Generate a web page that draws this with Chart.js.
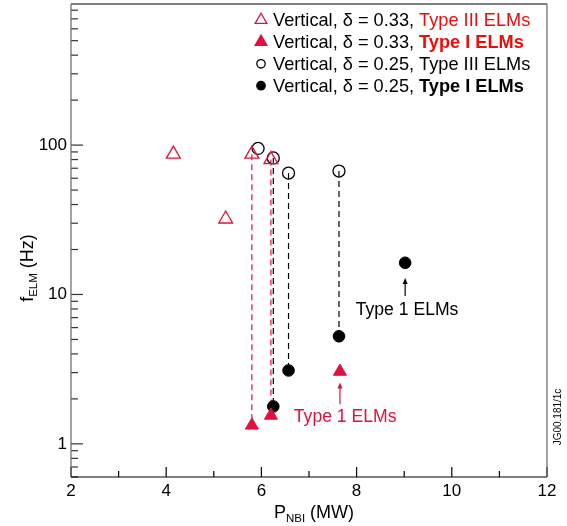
<!DOCTYPE html>
<html>
<head>
<meta charset="utf-8">
<script src="https://cdn.jsdelivr.net/npm/chart.js@4/dist/chart.umd.min.js"></script>
<style>
    body { margin: 0; background: #fff; }
    #wrap { width: 567px; height: 526px; }
</style>
</head>
<body>
<div id="wrap"><canvas id="elmChart" width="567" height="526"></canvas></div>
<script>
// P_NBI (MW) and f_ELM (Hz)
const pOpenTri = [4.15, 5.25, 5.8, 6.2];     // delta = 0.33, Type III
const fOpenTri = [87, 32, 87, 80];
const pFillTri = [5.8, 6.2, 7.65];           // delta = 0.33, Type I
const fFillTri = [1.33, 1.55, 3.05];
const pOpenCirc = [5.93, 6.25, 6.57, 7.63];  // delta = 0.25, Type III
const fOpenCirc = [95, 82, 65, 67];
const pFillCirc = [6.25, 6.57, 7.63, 9.02];  // delta = 0.25, Type I
const fFillCirc = [1.78, 3.1, 5.25, 16.3];

// dashed links: [index in open set, index in filled set]
const redLinks = [[2, 0], [3, 1]];
const blackLinks = [[1, 0], [2, 1], [3, 2]];

const xTicks = [2, 4, 6, 8, 10, 12];
const yTickLabels = [1, 10, 100];

const RED = '#e2103c';
const LEGEND_RED = '#f00a0a';
const FONT = "'Liberation Sans', Arial, Helvetica, sans-serif";

const toPts = (xs, ys) => xs.map((x, i) => ({ x: x, y: ys[i] }));

function linkSets(links, xo, yo, xf, yf, color) {
    return links.map(([a, b]) => ({
        data: [{ x: xo[a], y: yo[a] }, { x: xf[b], y: yf[b] }],
        showLine: true,
        borderColor: color,
        borderWidth: 1.2,
        borderDash: [6, 4],
        pointRadius: 0,
        order: 10
    }));
}

const annotations = [
    { x: 9.02, tip: 12.9, tail: 9.75, tx: 9.06, ty: 7.3, color: '#000' },
    { x: 7.65, tip: 2.57, tail: 1.84, tx: 7.76, ty: 1.39, color: RED }
];

const legendItems = [
    { style: 'triangle', fill: false, color: RED, parts: [['Vertical, \u03b4 = 0.33, ', '#000', false], ['Type III ELMs', LEGEND_RED, false]] },
    { style: 'triangle', fill: true, color: RED, parts: [['Vertical, \u03b4 = 0.33, ', '#000', false], ['Type I ELMs', LEGEND_RED, true]] },
    { style: 'circle', fill: false, color: '#000', parts: [['Vertical, \u03b4 = 0.25, Type III ELMs', '#000', false]] },
    { style: 'circle', fill: true, color: '#000', parts: [['Vertical, \u03b4 = 0.25, ', '#000', false], ['Type I ELMs', '#000', true]] }
];

function drawSymbol(ctx, style, fill, color, x, y, r) {
    ctx.save();
    ctx.beginPath();
    if (style === 'triangle') {
        for (let k = 0; k < 3; k++) {
            const a = k * 2 * Math.PI / 3;
            const px = x + Math.sin(a) * r, py = y - Math.cos(a) * r;
            k === 0 ? ctx.moveTo(px, py) : ctx.lineTo(px, py);
        }
        ctx.closePath();
    } else {
        ctx.arc(x, y, r, 0, Math.PI * 2);
    }
    ctx.lineWidth = 1.3;
    ctx.strokeStyle = color;
    if (fill) { ctx.fillStyle = color; ctx.fill(); }
    ctx.stroke();
    ctx.restore();
}

const decorPlugin = {
    id: 'decor',
    afterDatasetsDraw(chart) {
        const { ctx, chartArea: a, scales: { x, y } } = chart;
        ctx.save();
        ctx.lineWidth = 1.2;
        // inner ticks on the bottom axis
        ctx.strokeStyle = '#000';
        for (let v = x.min; v <= x.max; v++) {
            const px = x.getPixelForValue(v);
            const len = v % 2 === 0 ? 10 : 6;
            ctx.beginPath(); ctx.moveTo(px, a.bottom); ctx.lineTo(px, a.bottom - len); ctx.stroke();
        }
        // inner ticks on the log axis
        ctx.strokeStyle = '#333';
        for (let d = 0.1; d <= 1000; d *= 10) {
            for (let k = 1; k <= 9; k++) {
                const v = d * k;
                if (v < y.min || v > y.max) continue;
                const py = y.getPixelForValue(v);
                const len = k === 1 ? 12 : 7;
                ctx.beginPath(); ctx.moveTo(a.left, py); ctx.lineTo(a.left + len, py); ctx.stroke();
            }
        }
        // frame
        ctx.strokeStyle = '#000';
        ctx.beginPath(); ctx.moveTo(a.left, a.top); ctx.lineTo(a.right, a.top); ctx.stroke();
        ctx.beginPath(); ctx.moveTo(a.left, a.bottom); ctx.lineTo(a.right, a.bottom); ctx.stroke();
        ctx.strokeStyle = '#666';
        ctx.beginPath(); ctx.moveTo(a.left, a.top); ctx.lineTo(a.left, a.bottom); ctx.stroke();
        ctx.beginPath(); ctx.moveTo(a.right, a.top); ctx.lineTo(a.right, a.bottom); ctx.stroke();
        ctx.restore();
    },
    afterDraw(chart) {
        const { ctx, chartArea: a, scales: { x, y } } = chart;
        ctx.save();
        ctx.textBaseline = 'alphabetic';

        // legend
        legendItems.forEach((item, i) => {
            const base = 26 + i * 21.9;
            const r = item.style === 'triangle' ? 6.8 : 4.2;
            drawSymbol(ctx, item.style, item.fill, item.color, 261, base - 6, r);
            let tx = 273;
            item.parts.forEach(([txt, col, bold]) => {
                ctx.font = (bold ? 'bold ' : '') + '18.2px ' + FONT;
                ctx.fillStyle = col;
                ctx.fillText(txt, tx, base);
                tx += ctx.measureText(txt).width;
            });
        });

        // annotations with arrows
        annotations.forEach(n => {
            const px = x.getPixelForValue(n.x);
            const pTip = y.getPixelForValue(n.tip);
            const pTail = y.getPixelForValue(n.tail);
            ctx.strokeStyle = n.color;
            ctx.fillStyle = n.color;
            ctx.lineWidth = 1.2;
            ctx.beginPath(); ctx.moveTo(px, pTail); ctx.lineTo(px, pTip + 4); ctx.stroke();
            ctx.beginPath(); ctx.moveTo(px, pTip); ctx.lineTo(px - 2.5, pTip + 6); ctx.lineTo(px + 2.5, pTip + 6); ctx.closePath(); ctx.fill();
            ctx.font = '17.6px ' + FONT;
            ctx.textAlign = 'center';
            ctx.fillText('Type 1 ELMs', x.getPixelForValue(n.tx), y.getPixelForValue(n.ty));
        });

        // x axis title with subscript
        ctx.fillStyle = '#000';
        ctx.textAlign = 'left';
        const xParts = [['P', 18, 0], ['NBI', 11.5, 4], [' (MW)', 18, 0]];
        let wTot = 0;
        xParts.forEach(([t, s]) => { ctx.font = s + 'px ' + FONT; wTot += ctx.measureText(t).width; });
        let cx = 314 - wTot / 2;
        xParts.forEach(([t, s, dy]) => {
            ctx.font = s + 'px ' + FONT;
            ctx.fillText(t, cx, 518 + dy);
            cx += ctx.measureText(t).width;
        });

        // y axis title, rotated
        ctx.save();
        ctx.translate(33, 268);
        ctx.rotate(-Math.PI / 2);
        const yParts = [['f', 18, 0], ['ELM', 11.5, 4], [' (Hz)', 18, 0]];
        wTot = 0;
        yParts.forEach(([t, s]) => { ctx.font = s + 'px ' + FONT; wTot += ctx.measureText(t).width; });
        cx = -wTot / 2;
        yParts.forEach(([t, s, dy]) => {
            ctx.font = s + 'px ' + FONT;
            ctx.fillText(t, cx, dy);
            cx += ctx.measureText(t).width;
        });
        ctx.restore();

        // figure reference tag
        ctx.save();
        ctx.translate(561, 417);
        ctx.rotate(-Math.PI / 2);
        ctx.font = '10px ' + FONT;
        ctx.textAlign = 'center';
        ctx.fillStyle = '#000';
        ctx.fillText('JG00.181/1c', 0, 0);
        ctx.restore();

        ctx.restore();
    }
};

Chart.defaults.font.family = FONT;
Chart.defaults.font.size = 17;
Chart.defaults.color = '#000';

new Chart(document.getElementById('elmChart'), {
    type: 'scatter',
    data: {
        datasets: [
            { data: toPts(pOpenTri, fOpenTri), pointStyle: 'triangle', pointRadius: 8, pointBorderWidth: 1.3, borderColor: RED, backgroundColor: 'rgba(0,0,0,0)', order: 1 },
            { data: toPts(pOpenCirc, fOpenCirc), pointStyle: 'circle', pointRadius: 6, pointBorderWidth: 1.3, borderColor: '#000', backgroundColor: 'rgba(0,0,0,0)', order: 1 },
            { data: toPts(pFillTri, fFillTri), pointStyle: 'triangle', pointRadius: 7.5, pointBorderWidth: 1, borderColor: RED, backgroundColor: RED, order: 1 },
            { data: toPts(pFillCirc, fFillCirc), pointStyle: 'circle', pointRadius: 5.8, pointBorderWidth: 1, borderColor: '#000', backgroundColor: '#000', order: 1 },
            ...linkSets(redLinks, pOpenTri, fOpenTri, pFillTri, fFillTri, RED),
            ...linkSets(blackLinks, pOpenCirc, fOpenCirc, pFillCirc, fFillCirc, '#000')
        ]
    },
    options: {
        responsive: false,
        animation: false,
        events: [],
        layout: { autoPadding: false, padding: { left: 0, top: 4, right: 20, bottom: 0 } },
        plugins: { legend: { display: false }, tooltip: { enabled: false } },
        scales: {
            x: {
                type: 'linear',
                min: 2,
                max: 12,
                grid: { display: false, drawTicks: false },
                border: { display: false },
                afterBuildTicks: s => { s.ticks = xTicks.map(v => ({ value: v })); },
                ticks: { padding: 4, maxRotation: 0, autoSkip: false, font: { size: 17 } },
                afterFit: s => { s.height = 49; s.paddingLeft = 0; s.paddingRight = 0; }
            },
            y: {
                type: 'logarithmic',
                min: 0.63,
                max: 880,
                grid: { display: false, drawTicks: false },
                border: { display: false },
                afterBuildTicks: s => { s.ticks = yTickLabels.map(v => ({ value: v })); },
                ticks: { padding: 4, autoSkip: false, font: { size: 17 }, callback: v => String(v) },
                afterFit: s => { s.width = 71; s.paddingTop = 0; s.paddingBottom = 0; }
            }
        }
    },
    plugins: [decorPlugin]
});
</script>
</body>
</html>
